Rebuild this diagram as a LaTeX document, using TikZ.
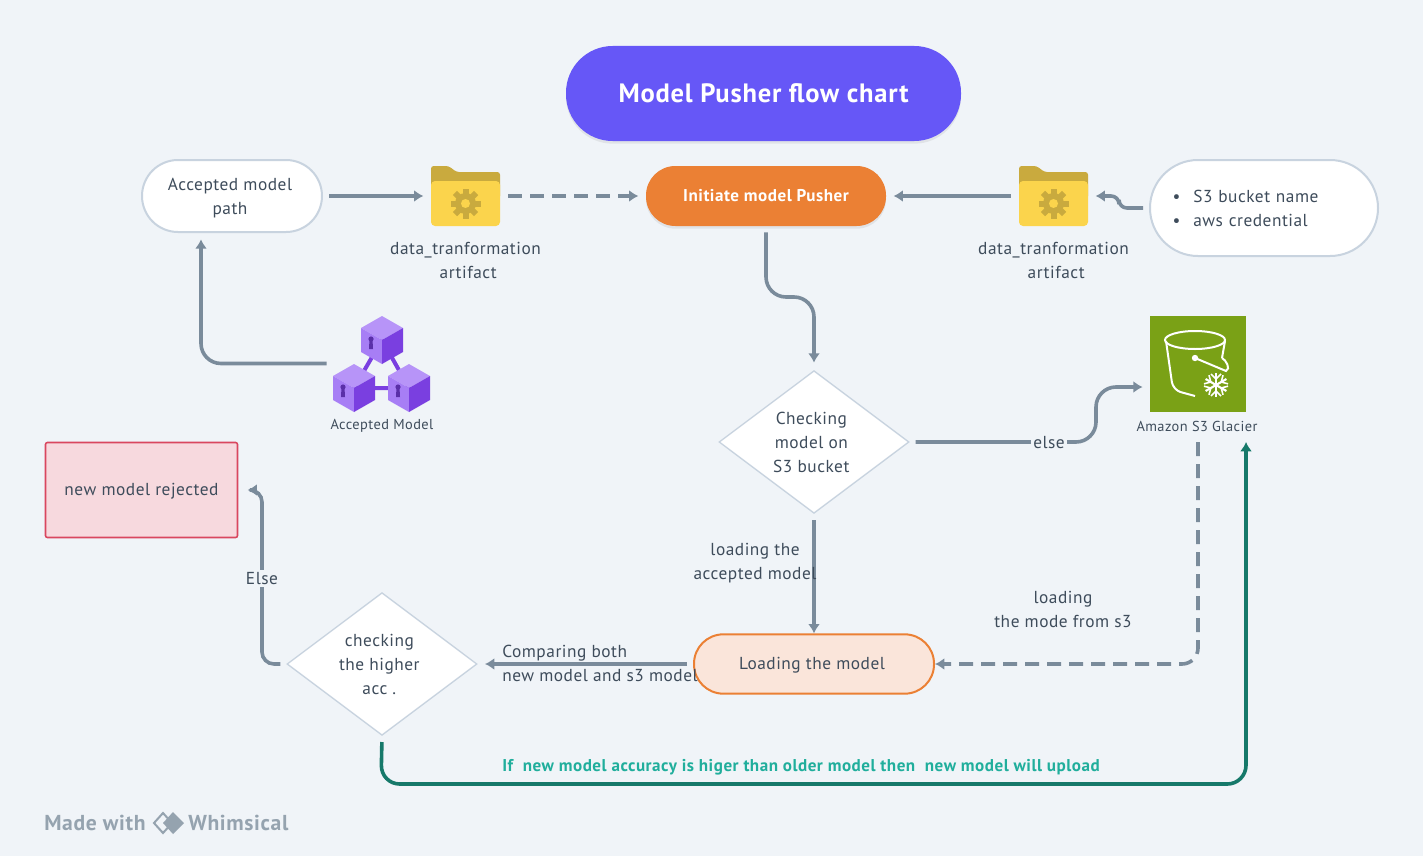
\documentclass[tikz,border=0pt]{standalone}
\usepackage{fontspec}
\setmainfont[LetterSpace=3]{PT Sans}
\usepackage{tikz}
\usetikzlibrary{
  arrows.meta,%
  calc,%
  shadows,%
  shapes.geometric,%
  positioning
}
\definecolor{pagebg}{HTML}{F0F4F8}
\definecolor{textc}{HTML}{3E4C5B}
\definecolor{linec}{HTML}{7A8B9B}
\definecolor{borderc}{HTML}{C8D3DF}
\definecolor{orangec}{HTML}{EB8034}
\definecolor{peachc}{HTML}{FAE5DA}
\definecolor{titlec}{HTML}{6657F7}
\definecolor{folderc}{HTML}{FBD44C}
\definecolor{folderd}{HTML}{C9AA3E}
\definecolor{cubet}{HTML}{B794F8}
\definecolor{cubel}{HTML}{A77EF5}
\definecolor{cuber}{HTML}{7A3FE0}
\definecolor{keyc}{HTML}{5A2FA8}
\definecolor{glacierc}{HTML}{7AA116}
\definecolor{rejectf}{HTML}{F7D9DE}
\definecolor{rejectd}{HTML}{D9475F}
\definecolor{greenl}{HTML}{16796A}
\definecolor{greent}{HTML}{20AE9C}
\definecolor{markc}{HTML}{95A3AF}
\tikzset{>={Latex[length=7pt,width=9pt]}}
\tikzset{font=\fontsize{13}{18}\selectfont, text=textc}
\tikzset{
  flow/.style={->, draw=linec, line width=2.7pt, shorten >=5.5pt, shorten <=4.5pt},
  dashflow/.style={flow, shorten <=6pt, dash pattern=on 10.5pt off 6pt},
  pillbox/.style={draw=borderc, line width=1.5pt, fill=white, align=center},
  softshadow/.style={drop shadow={opacity=.14, shadow xshift=0pt, shadow yshift=-2pt}},
  checkbox/.style={diamond, draw=borderc, line width=1pt, fill=white, align=center,
    aspect=1.33, inner sep=0pt, minimum width=142.5pt, minimum height=107pt},
  iconbox/.style={inner sep=0pt, minimum width=#1},
  small label/.style={font=\fontsize{10.8}{15}\selectfont},
  folderpic/.pic={
    \fill[folderd] (-34.5,-30) -- (-34.5,-26) -- (-34.5,0) -- (34.5,0) -- (34.5,-18)
      [rounded corners=2pt] -- (34.5,-24) -- (-9,-24) -- (-17,-30) -- cycle;
    \fill[folderc, rounded corners=3pt] (-34.5,-15) rectangle (34.5,30);
    \fill[folderd] (0,7.5) circle (10.5);
    \foreach \a in {0,45,...,315}
      \fill[folderd, rotate around={\a:(0,7.5)}] (-3,-7.5) rectangle (3,0);
    \fill[folderc] (0,7.5) circle (4.5);
  },
  cubepic/.pic={
    \fill[cubet] (0,-24) -- (-21,-12) -- (0,0) -- (21,-12) -- cycle;
    \fill[cubel] (-21,-12) -- (0,0) -- (0,24) -- (-21,12) -- cycle;
    \fill[cuber] (21,-12) -- (0,0) -- (0,24) -- (21,12) -- cycle;
    \fill[keyc] (-11,-1) circle (2.6);
    \fill[keyc] (-12.5,-1) -- (-9.5,-1) -- (-9,9) -- (-13,9) -- cycle;
  }
}
\begin{document}
\begin{tikzpicture}[x=.75pt, y=-.75pt]
  \useasboundingbox (0,0) rectangle (1423,856);
  \fill[pagebg] (0,0) rectangle (1423,856);

  \node[fill=titlec, rounded corners=35pt, minimum width=296.25pt, minimum height=71.25pt,
    text=white, font=\fontsize{19.9}{22}\selectfont\bfseries, softshadow] (title) at (763.5,93.5) {Model Pusher flow chart};
  \node[pillbox, rounded corners=27pt, minimum width=135pt, minimum height=54pt] (acceptedpath) at (232,196)
    {\rule{0pt}{12.4pt}\hspace*{-3pt}Accepted model\\\hspace*{-3pt}path};
  \node[iconbox=51.75pt, minimum height=45pt] (folderL) at (465.5,196) {};
  \pic at (folderL) {folderpic};
  \node[below=11.5pt of folderL, inner sep=0pt, align=center] (folderLtext) {data\_tranformation\\\hspace*{4pt}artifact};
  \node[fill=orangec, rounded corners=22pt, minimum width=180pt, minimum height=45pt,
    text=white, font=\fontsize{12.8}{18}\selectfont\bfseries, softshadow] (initpusher) at (766,196) {Initiate model Pusher};
  \node[iconbox=51.75pt, minimum height=45pt] (folderR) at (1053.5,196) {};
  \pic at (folderR) {folderpic};
  \node[below=11.5pt of folderR, inner sep=0pt, align=center] (folderRtext) {data\_tranformation\\\hspace*{4pt}artifact};
  \node[draw=borderc, line width=1.5pt, fill=white, rounded corners=36pt, align=left, text width=135pt,
    inner xsep=18pt, minimum height=72pt] (s3list) at (1264,208)
    {\hspace*{-1pt}\makebox[15.5pt][l]{•}S3 bucket name\\\hspace*{-1pt}\makebox[15.5pt][l]{•}aws credential};

  % cubes
  \node[iconbox=72.75pt, minimum height=71.25pt] (cubes) at (381.5,363.5) {};
  \draw[cuber, line width=3pt] (382,340) -- (354,388) -- (409,388) -- cycle;
  \pic at (382,340) {cubepic};
  \pic at (354,388) {cubepic};
  \pic at (409,388) {cubepic};
  \node[small label, inner sep=0pt] (cubestext) at (382,426) {Accepted Model};

  % glacier
  \node[fill=glacierc, inner sep=0pt, minimum width=72pt, minimum height=72pt] (glacier) at (1198,364) {};
  \draw[white, line width=1.5pt] (1195,340) ellipse (30 and 9);
  \draw[white, line width=1.5pt, rounded corners=6pt] (1166,341) -- (1173,390) -- (1195,396);
  \draw[white, line width=1.5pt] (1225,341) -- (1222,358);
  \fill[white] (1195,358) circle (3.2);
  \draw[white, line width=1.5pt] (1195,358) -- (1226,371) .. controls (1231,369) and (1226,360) .. (1222,358);
  \foreach \a in {0,60,120}
    \draw[white, line width=1.6pt, rotate around={\a:(1216,385)}] (1216,373) -- (1216,397);
  \foreach \a in {0,60,...,300}
    \draw[white, line width=1.2pt, rotate around={\a:(1216,385)}] (1211,374) -- (1216,379) -- (1221,374);
  \node[small label, inner sep=0pt] (glaciertext) at (1197,426) {Amazon S3 Glacier};

  \node[checkbox] (checks3) at (814,442) {\hspace*{-4pt}Checking\\\hspace*{-4pt}model on\\\hspace*{-4pt}S3 bucket};
  \node[fill=rejectf, draw=rejectd, line width=1.2pt, rounded corners=1.5pt, minimum width=144pt, minimum height=71.25pt, text depth=1pt] (rejected) at (141.5,490) {new model rejected};
  \node[fill=peachc, draw=orangec, line width=1.5pt, rounded corners=22pt, minimum width=180pt, minimum height=44.5pt, text depth=1pt] (loadmodel) at (814,664) {\hspace*{-3pt}Loading the model};
  \node[checkbox] (checkacc) at (382,664) {\hspace*{-4pt}checking\\\hspace*{-4pt}the higher\\\hspace*{-4pt}acc .};

  \coordinate (pathin) at (201,232);
  \coordinate (glacierin) at (1150,387);
  \coordinate (glacierout) at (1198,436);
  \coordinate (glacierup) at (1246,442);

  \draw[flow] (acceptedpath) -- (folderL);
  \draw[dashflow] (folderL) -- (initpusher);
  \draw[flow, shorten <=6pt] (folderR) -- (initpusher);
  \draw[flow, rounded corners=6pt] (s3list.west) -- (1119,208) -- (1119,196) -- (folderR.east);
  \draw[flow, rounded corners=15pt] (cubes.west) -| (pathin);
  \draw[flow, rounded corners=15pt] (initpusher.south) -- (766,297) -- (814,297) -- (checks3.north);
  \draw[flow, rounded corners=15pt] (checks3.east) -- (1096,442) -- (1096,387) -- (glacierin);
  \draw[flow, shorten >=0pt] (checks3.south) -- (loadmodel.north);
  \draw[dashflow, rounded corners=12pt, shorten >=0pt, shorten <=4.5pt] (glacierout) |- (loadmodel.east);
  \draw[flow] (loadmodel.west) -- (checkacc.east);
  \draw[flow, rounded corners=9pt, shorten >=7pt] (checkacc.west) -- (262,664) -- (262,490) -- (rejected.east);
  \draw[flow, draw=greenl, color=greenl, rounded corners=14pt, shorten >=0pt] (checkacc.south) -- (381,784) -- (1246,784) -- (glacierup);

  \node[fill=pagebg, inner sep=1.5pt] (elselabel) at (1049,442.5) {else};
  \node[fill=pagebg, inner sep=1.5pt] (elselabelb) at (262,578.5) {Else};
  \node[align=center, inner sep=0pt] (loadaccepted) at (755,563) {loading the\\accepted model};
  \node[align=center, inner sep=0pt] (loads3) at (1063,609) {loading\\the mode from s3};
  \node[align=left, inner sep=0pt, anchor=west] (comparetext) at (502,663) {Comparing both\\new model and s3 model};
  \node[text=greent, font=\fontsize{12.8}{18}\selectfont\bfseries, inner sep=0pt] (uploadtext) at (801,767) {If\ \ new model accuracy is higer than older model then\ \ new model will upload};

  % watermark
  \node[text=markc, font=\fontsize{16.2}{18}\selectfont\bfseries, inner sep=0pt, anchor=west] (madewith) at (44,823) {Made with};
  \node[text=markc, font=\fontsize{16.2}{18}\selectfont\bfseries, inner sep=0pt, anchor=west] (whimsical) at (188,823) {Whimsical};
  \draw[markc, line width=1.5pt] (163,813) -- (154,823) -- (163,833) -- (172,823) -- cycle;
  \fill[markc] (173,812) -- (163,823) -- (173,834) -- (184,823) -- cycle;
\end{tikzpicture}
\end{document}
